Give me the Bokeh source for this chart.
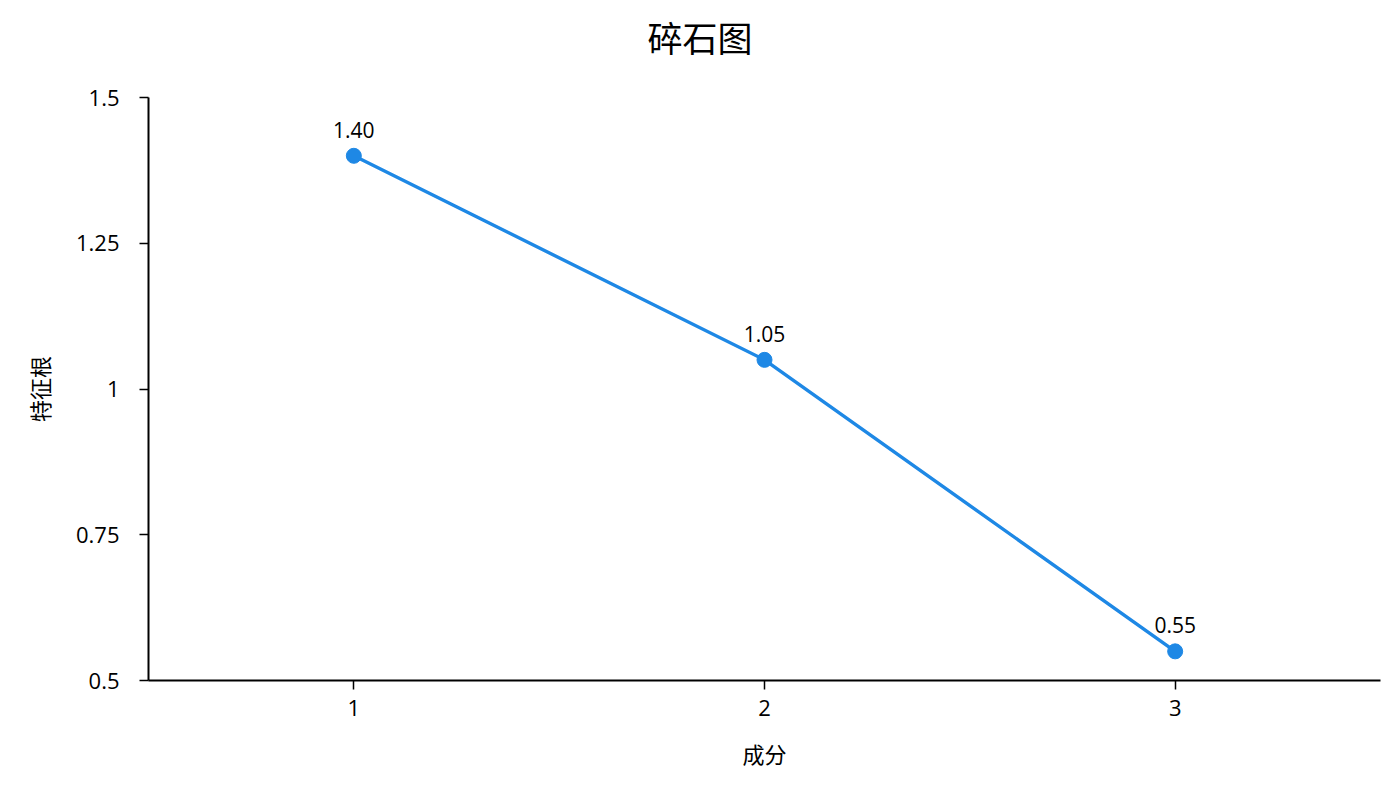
from bokeh.plotting import figure
from bokeh.models import ColumnDataSource, FixedTicker, Range1d, Title
from bokeh.core.properties import value
from bokeh.embed import file_html
from bokeh.resources import INLINE

title_text = "碎石图"
x_label = "成分"
y_label = "特征根"
components = [1, 2, 3]
eigenvalues = [1.40, 1.05, 0.55]
point_labels = ["1.40", "1.05", "0.55"]
y_ticks = [0.5, 0.75, 1.0, 1.25, 1.5]
y_tick_labels = ["0.5", "0.75", "1", "1.25", "1.5"]
x_ticks = [1, 2, 3]

COLOR = "#1e88e5"
NUM_FONT = "Open Sans"
CJK_FONT = "Noto Sans CJK SC"

src = ColumnDataSource(dict(x=components, y=eigenvalues, lab=point_labels))

p = figure(width=1384, height=784, output_backend="svg", toolbar_location=None,
           x_range=Range1d(0.5, 3.5), y_range=Range1d(0.5, 1.5),
           min_border_left=148, min_border_right=4, min_border_top=97,
           min_border_bottom=104)

p.title.text = title_text
p.title.align = "left"
p.title.offset = 499
p.title.vertical_align = "top"
p.title.text_font = CJK_FONT
p.title.text_font_size = "35px"
p.title.text_font_style = "normal"
p.title.text_color = "#000000"
p.title.standoff = 18

# thin spacer between the title and the plotting area
spacer = Title(text=" ", text_font_size="2px", standoff=21)
p.above = [spacer] + list(p.above)

p.outline_line_color = None
p.xgrid.grid_line_color = None
p.ygrid.grid_line_color = None
p.background_fill_color = "white"
p.border_fill_color = "white"

p.line("x", "y", source=src, line_color=COLOR, line_width=3.4)
p.scatter("x", "y", source=src, size=15, fill_color=COLOR, line_color=COLOR)
p.text("x", "y", text="lab", source=src, y_offset=-18, text_align="center",
       text_baseline="bottom", text_font=value(NUM_FONT), text_font_size="21px",
       text_color="#000000")

for ax in (p.xaxis[0], p.yaxis[0]):
    ax.axis_line_color = "#000000"
    ax.axis_line_width = 2
    ax.major_tick_line_color = "#000000"
    ax.major_tick_line_width = 1.5
    ax.major_tick_out = 9
    ax.major_tick_in = 0
    ax.minor_tick_line_color = None
    ax.major_label_text_font = NUM_FONT
    ax.major_label_text_font_size = "22px"
    ax.major_label_text_color = "#000000"
    ax.axis_label_text_font = CJK_FONT
    ax.axis_label_text_font_size = "22px"
    ax.axis_label_text_font_style = "normal"
    ax.axis_label_text_color = "#000000"

p.xaxis.ticker = FixedTicker(ticks=x_ticks)
p.xaxis.major_label_standoff = 10
p.xaxis.axis_label = x_label
p.xaxis.axis_label_standoff = 18

p.yaxis.ticker = FixedTicker(ticks=y_ticks)
p.yaxis.major_label_overrides = {t: l for t, l in zip(y_ticks, y_tick_labels)}
p.yaxis.major_label_standoff = 20
p.yaxis.axis_label = y_label
p.yaxis.axis_label_standoff = 18

open("out.html", "w").write(file_html(p, INLINE))
